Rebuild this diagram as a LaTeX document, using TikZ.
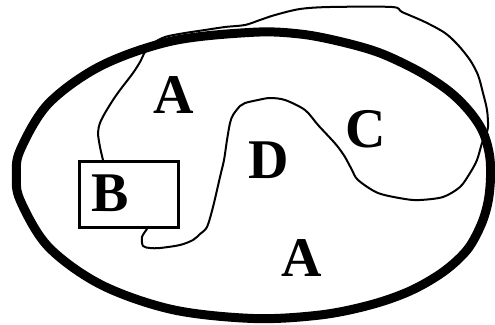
\documentclass[tikz,border=0pt]{standalone}
\usepackage{fontspec}
\setmainfont{Liberation Serif}
\begin{document}
\begin{tikzpicture}[x=1pt,y=-1pt,
  lbl/.style={font=\fontsize{56}{60}\selectfont\bfseries, anchor=base, inner sep=0pt},
  boundary/.style={line width=9pt, line join=round},
  thinline/.style={line width=2pt, line join=round, line cap=round},
  boxst/.style={draw, line width=3pt, minimum width=99pt, minimum height=66pt, inner sep=0pt}]
\useasboundingbox (0,0) rectangle (495,324);
\draw[boundary] plot[smooth cycle, tension=0.55] coordinates {
 (253.5,32.25) (300,34) (340,41.5) (380,53) (420,72) (450,92) (470,112)
 (483,132) (489.5,155) (490.5,178) (488,202) (481,225) (467,250) (443,272)
 (410,291) (370,305) (320,315) (253.5,318.5) (172.4,309.6) (101.2,284.8)
 (48.3,246.75) (20.1,200.1) (16.5,175.25) (20.1,150.4) (48.3,103.75)
 (101.2,65.7) (172.4,40.9)};
\node[boxst] (box) at (129,194.5) {};
\node[lbl] (B) at (110,211) {B};
\node[lbl] (A1) at (174,113) {A};
\node[lbl] (D) at (269,178) {D};
\node[lbl] (C) at (366,147) {C};
\node[lbl] (A2) at (302,276) {A};
\coordinate (s) at ([xshift=-26pt]box.north);
\coordinate (e) at ([xshift=18pt]box.south);
\draw[thinline] plot[smooth, tension=0.5] coordinates {
 (s) (100,147) (98,133) (100,123) (105,113) (113,100) (120,90) (133,73)
 (140,62) (145,52) (152,44) (165,37) (185,33) (205,30) (225,27) (245,25)
 (260,20) (275,15) (300,9) (330,7) (392,7) (402,12) (425,22) (445,33)
 (458,45) (470,60) (478,75) (483,93) (487,110) (488,127) (485,137)
 (482,143) (477,160) (470,173) (460,187) (443,197) (420,200) (405,199)
 (378,193) (358,180) (352,170) (345,157) (338,147) (332,140) (318,125)
 (305,110) (285,100) (270,98) (258,100) (245,103) (240,106) (233,115)
 (230,123) (227,140) (224,160) (220,177) (213,207) (207,227) (200,234)
 (193,240) (180,245) (160,248) (150,248) (143,246) (142,237) (e)};
\end{tikzpicture}
\end{document}
